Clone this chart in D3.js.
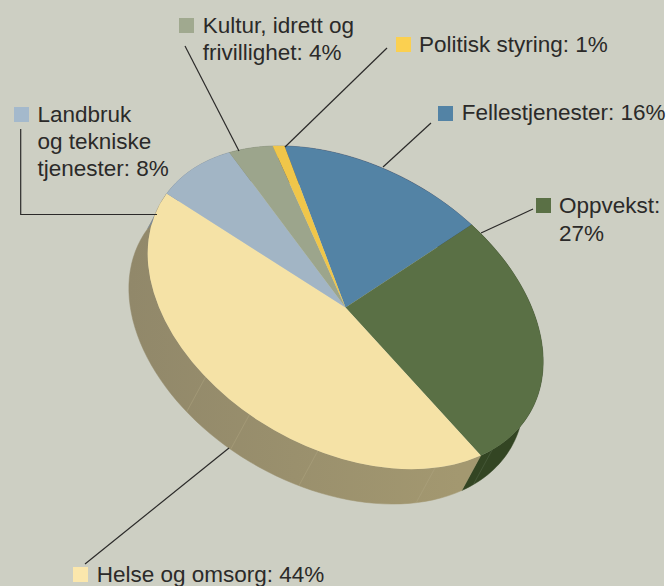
<!DOCTYPE html>
<html>
<head>
<meta charset="utf-8">
<script src="https://cdn.jsdelivr.net/npm/d3@7"></script>
<style>
  html, body { margin: 0; padding: 0; background: #fff; overflow: hidden; }
  svg { display: block; }
  text { font-family: "Liberation Sans", Arial, sans-serif; font-size: 22.5px; fill: #2b2a29; }
</style>
</head>
<body>
<svg id="chart" width="667" height="586"></svg>
<script>
// chart data, in the order the slices run clockwise from the top
const categories = ["Fellestjenester", "Oppvekst", "Helse og omsorg", "Landbruk og tekniske tjenester", "Kultur, idrett og frivillighet", "Politisk styring"];
const shares = [16, 27, 44, 8, 4, 1];
const topColors = ["#5383a5", "#5a7045", "#f5e2a6", "#a2b5c5", "#9ca58c", "#f0c64a"];
const wallColors = ["#3a4a66", "#334523", "url(#creamWall)", "#7d8a99", "#7d8570", "#b89a3a"];
const legendColors = ["#5383a5", "#5a7045", "#fbe7ac", "#a4b9cc", "#a0a98f", "#fbd050"];
// places on the rim where the side wall has a faint seam, degrees clockwise from slice start
const seamAngles = [150, 171, 206, 227, 243];

// label layout
const labelLayout = [
  { box: [438, 106], lines: ["Fellestjenester: 16%"], text: [461.7, 120], lead: [[431, 123], [383, 167]] },
  { box: [536, 198], lines: ["Oppvekst:", "27%"], text: [559, 212.5], gap: 28, lead: [[533, 209], [481, 233]] },
  { box: [73, 567], lines: ["Helse og omsorg: 44%"], text: [96.7, 581.5], lead: [[85, 564], [229, 448]] },
  { box: [14, 107], lines: ["Landbruk", "og tekniske", "tjenester: 8%"], text: [37.5, 121.5], lead: [[20.7, 129], [20.7, 214.5], [157, 214.5]] },
  { box: [179, 18], lines: ["Kultur, idrett og", "frivillighet: 4%"], text: [202.7, 32.7], lead: [[185, 46], [239, 151]] },
  { box: [396, 37], lines: ["Politisk styring: 1%"], text: [419, 51.5], lead: [[387, 48], [285, 147]] }
];

const svg = d3.select("#chart");
svg.append("rect").attr("width", 664).attr("height", 586).attr("fill", "#cdcfc3");

const grad = svg.append("defs").append("linearGradient")
  .attr("id", "creamWall")
  .attr("gradientUnits", "userSpaceOnUse")
  .attr("x1", 130).attr("y1", 0).attr("x2", 460).attr("y2", 0);
grad.append("stop").attr("offset", 0).attr("stop-color", "#91886a");
grad.append("stop").attr("offset", 1).attr("stop-color", "#a39870");

// the tilted disc is a unit circle pushed through this affine map
const cx = 345.5, cy = 307.5;
const ux = -61, uy = -161.5, vx = 188, vy = 4.5;
const depth = [-19, 35];
// a is measured clockwise from the start of the first slice
const rim = (a, off) => [
  cx + ux * Math.cos(a) + vx * Math.sin(a) + (off ? depth[0] : 0),
  cy + uy * Math.cos(a) + vy * Math.sin(a) + (off ? depth[1] : 0)
];

const arcs = d3.pie().sort(null).value((d) => d)(shares);

// side walls
const wallG = svg.append("g");
const line = d3.line();
arcs.forEach((d, i) => {
  const pts = d3.range(0, 61).map((k) => d.startAngle + (d.endAngle - d.startAngle) * k / 60);
  const outline = pts.map((a) => rim(a, false)).concat(pts.slice().reverse().map((a) => rim(a, true)));
  wallG.append("path")
    .attr("d", line(outline) + "Z")
    .attr("fill", wallColors[i])
    .attr("stroke", wallColors[i])
    .attr("stroke-width", 0.5);
});

// seams on the wall
seamAngles.forEach((deg) => {
  const a = deg * Math.PI / 180;
  const p = rim(a, false), q = rim(a, true);
  wallG.append("line")
    .attr("x1", p[0]).attr("y1", p[1]).attr("x2", q[0]).attr("y2", q[1])
    .attr("stroke", deg < 154 ? "#56684a" : "#aea480")
    .attr("stroke-width", 0.5);
});

// top of the disc
const arc = d3.arc().innerRadius(0).outerRadius(1);
svg.append("g")
  .attr("transform", `matrix(${vx},${vy},${-ux},${-uy},${cx},${cy})`)
  .selectAll("path")
  .data(arcs)
  .join("path")
  .attr("d", arc)
  .attr("fill", (d, i) => topColors[i]);

// leader lines, legend squares and labels
labelLayout.forEach((l, i) => {
  svg.append("path")
    .attr("d", line(l.lead))
    .attr("fill", "none")
    .attr("stroke", "#2b2a29")
    .attr("stroke-width", 1.2);
  svg.append("rect")
    .attr("x", l.box[0]).attr("y", l.box[1])
    .attr("width", 15).attr("height", 15)
    .attr("fill", legendColors[i]);
  const t = svg.append("text").attr("x", l.text[0]).attr("y", l.text[1]);
  l.lines.forEach((s, j) => {
    t.append("tspan").attr("x", l.text[0]).attr("dy", j ? (l.gap || 27) : 0).text(s);
  });
});
</script>
</body>
</html>
